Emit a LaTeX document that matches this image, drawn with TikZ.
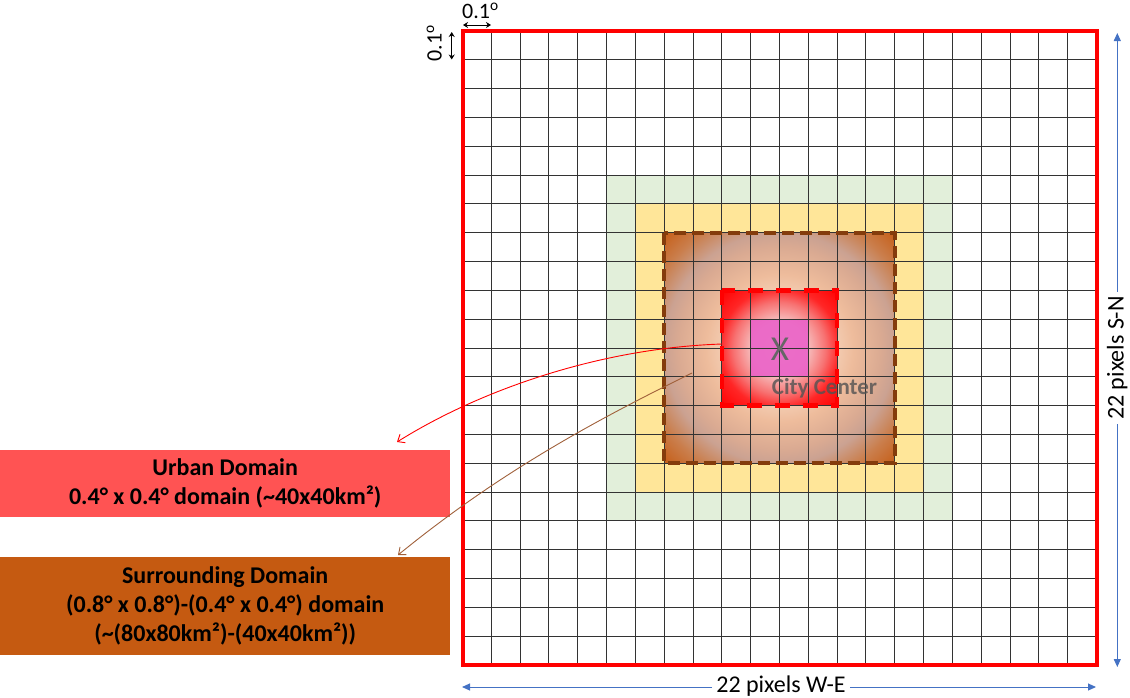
\documentclass[tikz,border=0pt]{standalone}
\usepackage{fontspec}
\setmainfont{Carlito}
\usetikzlibrary{arrows.meta}
\definecolor{gridgreen}{HTML}{E2EFDA}
\definecolor{gridyellow}{HTML}{FFE699}
\definecolor{brdash}{HTML}{843C0C}
\definecolor{urbanred}{HTML}{FF5353}
\definecolor{surrbrown}{HTML}{C55A11}
\definecolor{axisblue}{HTML}{4472C4}
\definecolor{pinkc}{HTML}{EA62C8}
\definecolor{curvebrown}{HTML}{A0603A}
\definecolor{brA}{HTML}{FBE9DD}
\definecolor{brB}{HTML}{F6D5BE}
\definecolor{brC}{HTML}{EEBC9C}
\definecolor{brD}{HTML}{DAAA92}
\definecolor{brE}{HTML}{CBA292}
\definecolor{brF}{HTML}{CA7E4C}
\definecolor{brG}{HTML}{C55A11}
\definecolor{rdA}{HTML}{F8D4CC}
\definecolor{rdB}{HTML}{F6BEBE}
\definecolor{rdC}{HTML}{F77272}
\definecolor{rdD}{HTML}{FF2626}
\definecolor{rdE}{HTML}{FF0000}
\pgfdeclareradialshading{brownrad}{\pgfpointorigin}{color(0bp)=(brA); color(10bp)=(brB); color(16bp)=(brC); color(22bp)=(brD); color(25bp)=(brE); color(30bp)=(brF); color(36bp)=(brG); color(50bp)=(brG)}
\pgfdeclareradialshading{redrad}{\pgfpointorigin}{color(0bp)=(rdA); color(12bp)=(rdB); color(20bp)=(rdC); color(26bp)=(rdD); color(36bp)=(rdE); color(50bp)=(rdE)}
\begin{document}
\begin{tikzpicture}[x=1pt,y=-1pt,
  gridline/.style={draw=black!80, line width=0.95pt},
  domainbox/.style={anchor=north west, minimum width=450pt, inner sep=0pt, align=center,
    font=\bfseries\fontsize{24}{29}\selectfont, text=black},
  axislabel/.style={font=\fontsize{24}{24}\selectfont, inner sep=4pt, text=black},
  blueaxis/.style={draw=axisblue, line width=1pt, -{Triangle[length=8pt,width=7pt]}},
  smallarrow/.style={draw=black, line width=0.9pt, {Stealth[length=5pt,width=6pt]}-{Stealth[length=5pt,width=6pt]}},
  pointer/.style={line width=0.9pt, -{Straight Barb[length=6pt,width=10pt]}}]
\useasboundingbox (0,0) rectangle (1130,697);
% coloured domains
\fill[gridgreen] (606.59,175.09) rectangle (952.41,520.91);
\fill[gridyellow] (635.41,203.91) rectangle (923.59,492.09);
\shade[shading=brownrad] (664.23,232.73) rectangle (894.77,463.27);
\shade[shading=redrad] (721.86,290.36) rectangle (837.13,405.64);
\fill[pinkc, fill opacity=0.9] (750.68,319.18) rectangle (808.32,376.82);
% grid
\foreach \i in {1,...,21} {
  \draw[gridline] ({462.5+28.818*\i},31) -- ({462.5+28.818*\i},665);
  \draw[gridline] (462.5,{31+28.818*\i}) -- (1096.5,{31+28.818*\i});
}
\draw[red, line width=4pt] (462.5,31) rectangle (1096.5,665);
% dashed domain borders
\draw[brdash, line width=4pt, dash pattern=on 12pt off 6pt] (664.23,232.73) rectangle (894.77,463.27);
\draw[red, line width=4.5pt, dash pattern=on 15pt off 13pt] (721.86,290.36) rectangle (837.13,405.64);
% centre labels
\node[font=\fontsize{35}{35}\selectfont, text=black!60] (xmark) at (780,349) {X};
\node[font=\bfseries\fontsize{23}{23}\selectfont, text=black!68, text opacity=0.8] (city) at (824.5,388) {City Center};
% domain boxes
\node[domainbox, fill=urbanred, minimum height=67pt] (urban) at (0,450) {Urban Domain\\0.4° x 0.4° domain (\textasciitilde 40x40km²)};
\node[domainbox, fill=surrbrown, minimum height=98pt] (surr) at (0,557) {Surrounding Domain\\(0.8° x 0.8°)-(0.4° x 0.4°) domain\\(\textasciitilde(80x80km²)-(40x40km²))};
% pointers
\coordinate (urbanstart) at (722,344);
\coordinate (urbantip) at (397,442);
\coordinate (surrstart) at (692,373);
\coordinate (surrtip) at (398,555);
\draw[pointer, red] (urbanstart) .. controls (600,348) and (480,390) .. (urbantip);
\draw[pointer, curvebrown] (surrstart) .. controls (592,422) and (498,473.5) .. (surrtip);
% 0.1 degree marks
\node[font=\fontsize{22}{22}\selectfont, anchor=base west, inner sep=0pt] (dxlab) at (462,18.5) {0.1\textsuperscript{o}};
\coordinate (dxa) at (463,25);
\coordinate (dxb) at (491,25);
\draw[smallarrow] (dxa) -- (dxb);
\node[font=\fontsize{22}{22}\selectfont, anchor=base west, inner sep=0pt, rotate=90] (dylab) at (441.7,61.7) {0.1\textsuperscript{o}};
\coordinate (dya) at (451.7,32);
\coordinate (dyb) at (451.7,59.5);
\draw[smallarrow] (dya) -- (dyb);
% axes
\node[axislabel, rotate=90] (sn) at (1117.3,358) {22 pixels S-N};
\coordinate (sntop) at (1117.3,33);
\coordinate (snbot) at (1117.3,667);
\draw[blueaxis] (sn.east) -- (sntop);
\draw[blueaxis] (sn.west) -- (snbot);
\node[axislabel] (we) at (781,686) {22 pixels W-E};
\coordinate (wel) at (462,687);
\coordinate (wer) at (1096,687);
\draw[blueaxis] (we.west |- wel) -- (wel);
\draw[blueaxis] (we.east |- wer) -- (wer);
\end{tikzpicture}
\end{document}
